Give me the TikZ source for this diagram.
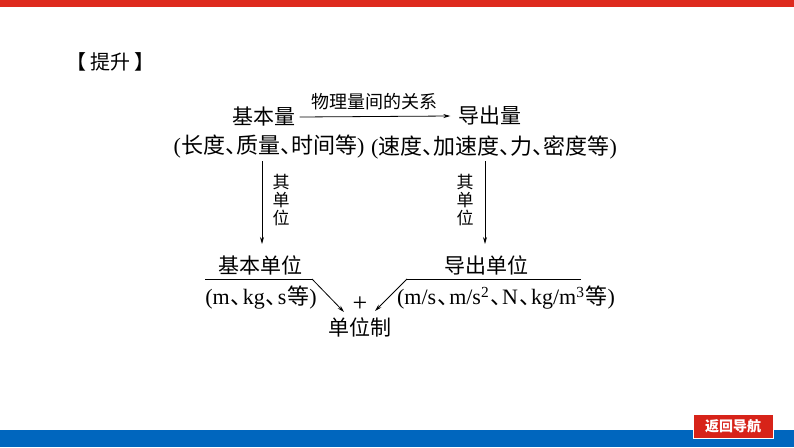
\documentclass[tikz,border=0pt]{standalone}
\usepackage{fontspec}
\setmainfont{Liberation Serif}
\newfontfamily\cjk{Noto Sans CJK SC}
\newfontfamily\cjkh[RawFeature=+halt]{Noto Sans CJK SC}
\usetikzlibrary{arrows.meta}
\definecolor{topred}{RGB}{222,42,30}
\definecolor{botblue}{RGB}{0,102,190}
\definecolor{btnred}{RGB}{215,35,25}
\tikzset{
  big/.style={inner sep=0pt, font=\cjk\fontsize{21}{21}\selectfont},
  mid/.style={inner sep=0pt, font=\fontsize{22}{22}\selectfont},
  small/.style={inner sep=0pt, font=\cjk\fontsize{18}{18}\selectfont},
  vlab/.style={inner sep=0pt, align=center, font=\cjk\fontsize{17}{18}\selectfont},
  arr/.style={line width=0.8pt, -{Stealth[length=7pt,width=4pt]}},
  ln/.style={line width=0.8pt}
}
\newcommand{\cj}[1]{{\cjk #1}}
\newcommand{\dn}{{\cjkh 、}}
\newcommand{\dnl}{\hspace{1pt}{\cjkh 、}\hspace{1pt}}
\begin{document}
\begin{tikzpicture}[x=1pt,y=-1pt]
\useasboundingbox (0,0) rectangle (794,447);
\fill[white] (0,0) rectangle (794,447);
\fill[topred] (0,0) rectangle (794,7);
\fill[botblue] (0,430) rectangle (794,447);
\node[draw=white, line width=1pt, fill=btnred, minimum width=80pt, minimum height=24pt, inner sep=0pt,
  font=\cjk\bfseries\fontsize{14}{14}\selectfont, text=white] (btn) at (733,426.5) {返回导航};

\node[big, font=\cjk\fontsize{20}{20}\selectfont] (title) at (110,62) {【\hspace{4pt}提升\hspace{4pt}】};

\node[big] (jbl) at (264,117) {基本量};
\node[big] (dcl) at (490,116) {导出量};
\draw[arr] ([xshift=4pt]jbl.east) -- ([xshift=-8pt]dcl.west);
\node[small] (rel) at (374,102) {物理量间的关系};

\node[mid] (p1) at (269,147) {(\cj{长度}\dn\cj{质量}\dn\cj{时间等})};
\node[mid] (p2) at (494,147) {(\cj{速度}\dn\cj{加速度}\dn\cj{力}\dn\cj{密度等})};

\coordinate (l1) at (262,161);
\coordinate (l2) at (262,244);
\draw[arr] (l1) -- (l2);
\node[vlab] (lu) at (281,200) {其\\单\\位};

\coordinate (r1) at (485,161);
\coordinate (r2) at (485,244);
\draw[arr] (r1) -- (r2);
\node[vlab] (ru) at (465,200) {其\\单\\位};

\node[big] (jbdw) at (260,265) {基本单位};
\node[mid] (jbex) at (261,298) {(m\dnl kg\dnl s\hspace{1pt}\cj{等})};
\coordinate (L1) at (205,279);
\coordinate (L2) at (312,279);
\coordinate (P) at (344,312);
\draw[ln] (L1) -- (L2);
\draw[arr] (L2) -- (P);

\node[big] (dcdw) at (486,265) {导出单位};
\node[mid] (dcex) at (506,298) {(m/s\dnl m/s\textsuperscript{2}\dnl N\dnl kg/m\textsuperscript{3}\hspace{1pt}\cj{等})};
\coordinate (R1) at (581,279);
\coordinate (R2) at (407,279);
\coordinate (Q) at (375,311);
\draw[ln] (R1) -- (R2);
\draw[arr] (R2) -- (Q);

\node[mid, font=\fontsize{26}{26}\selectfont] (plus) at (360,304) {+};
\node[big] (dwz) at (360,327) {单位制};
\end{tikzpicture}
\end{document}
